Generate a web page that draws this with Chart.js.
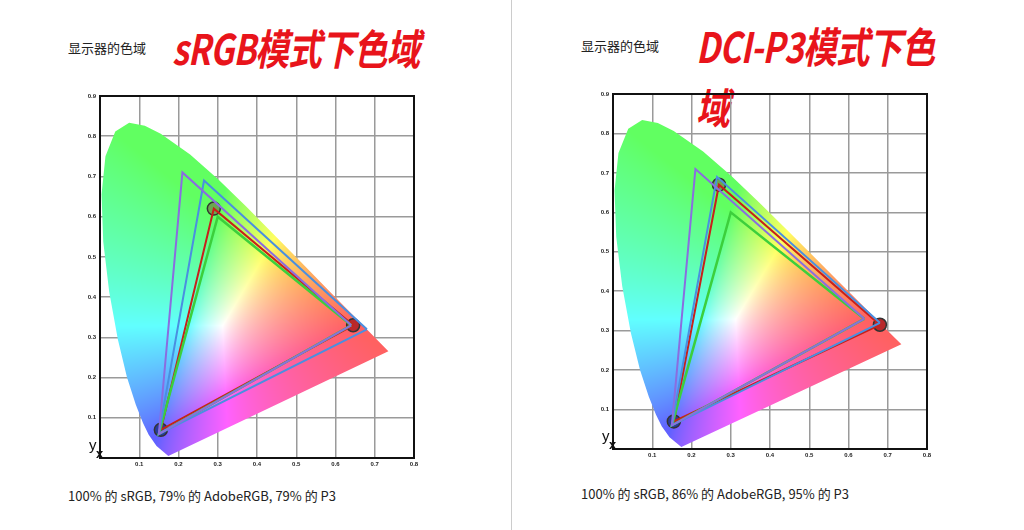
<!DOCTYPE html>
<html><head><meta charset="utf-8">
<script src="https://cdn.jsdelivr.net/npm/chart.js@4/dist/chart.umd.min.js"></script>
<style>
body{margin:0;background:#fff;width:1024px;height:530px;position:relative;overflow:hidden;font-family:"Noto Sans CJK SC","Noto Sans",sans-serif}
.t{position:absolute;font-size:13px;color:#222}
.big{position:absolute;color:#e8141b;font-weight:bold;font-style:italic;font-size:42px;letter-spacing:-1px;transform:scaleX(0.8);transform-origin:left}
.cv{position:absolute}
.xy{position:absolute;font-family:"Liberation Sans",sans-serif;color:#111}
</style></head><body>
<div style="position:absolute;left:511px;top:0;width:1px;height:530px;background:#ccc"></div>
<div class="t" style="left:68px;top:38px">显示器的色域</div>
<div class="big" style="left:172px;top:16px">sRGB模式下色域</div>
<div class="t" style="left:581px;top:36px">显示器的色域</div>
<div class="big" style="left:696px;top:14px">DCI-P3模式下色域</div>
<div class="t" style="left:68px;top:486px">100% 的 sRGB, 79% 的 AdobeRGB, 79% 的 P3</div>
<div class="t" style="left:581px;top:484px">100% 的 sRGB, 86% 的 AdobeRGB, 95% 的 P3</div>
<div class="cv" style="left:70px;top:88px;width:352px;height:384px"><canvas id="c1"></canvas></div>
<div class="cv" style="left:583px;top:86px;width:352px;height:377px"><canvas id="c2"></canvas></div>
<div class="xy" style="left:89px;top:436px;font-size:15px">y</div>
<div class="xy" style="left:96px;top:446px;font-size:13px;font-weight:bold">x</div>
<div class="xy" style="left:602px;top:427px;font-size:15px">y</div>
<div class="xy" style="left:609px;top:437px;font-size:13px;font-weight:bold">x</div>
<script>
const locusX=[0.1741,0.1440,0.1241,0.1096,0.0913,0.0687,0.0454,0.0235,0.0082,0.0039,0.0139,0.0389,0.0743,0.1142,0.1547,0.2296,0.3016,0.3731,0.4441,0.5125,0.5752,0.6270,0.6915,0.7190,0.7347];
const locusY=[0.0050,0.0297,0.0578,0.0868,0.1327,0.2007,0.2950,0.4127,0.5384,0.6548,0.7502,0.8120,0.8338,0.8262,0.8059,0.7543,0.6923,0.6245,0.5547,0.4866,0.4242,0.3725,0.3083,0.2809,0.2653];
const srgbX=[0.64,0.30,0.15], srgbY=[0.33,0.60,0.06];
const adobeX=[0.64,0.21,0.15], adobeY=[0.33,0.71,0.06];
const p3X=[0.68,0.265,0.15], p3Y=[0.32,0.69,0.06];
const meas1X=[0.645,0.29,0.155], meas1Y=[0.33,0.62,0.07];
const meas2X=[0.68,0.27,0.155], meas2Y=[0.315,0.67,0.07];
const xTicks=[0.1,0.2,0.3,0.4,0.5,0.6,0.7,0.8], yTicks=[0.1,0.2,0.3,0.4,0.5,0.6,0.7,0.8,0.9];

const pts=(xs,ys,close)=>{const a=xs.map((x,i)=>({x,y:ys[i]}));if(close)a.push(a[0]);return a;};

const locusPlugin={id:'locus',beforeDatasetsDraw(chart){
  const {ctx,scales:{x,y},chartArea:ca}=chart;
  const w=Math.round(ca.right-ca.left),h=Math.round(ca.bottom-ca.top);
  const off=document.createElement('canvas');off.width=w;off.height=h;
  const oc=off.getContext('2d');const img=oc.createImageData(w,h);
  const g=v=>v<=0.0031308?12.92*v:1.055*Math.pow(v,1/2.4)-0.055;
  for(let j=0;j<h;j++)for(let i=0;i<w;i++){
    const cx=x.getValueForPixel(ca.left+i+0.5),cy=y.getValueForPixel(ca.top+j+0.5);
    if(cy<=0.001)continue;
    const X=cx/cy,Y=1,Z=(1-cx-cy)/cy;
    let r=3.2406*X-1.5372*Y-0.4986*Z,gg=-0.9689*X+1.8758*Y+0.0415*Z,b=0.0557*X-0.2040*Y+1.0570*Z;
    r=Math.max(r,0);gg=Math.max(gg,0);b=Math.max(b,0);
    const m=Math.max(r,gg,b)||1;r=r/m*0.88+0.12;gg=gg/m*0.88+0.12;b=b/m*0.88+0.12;
    const k=(j*w+i)*4;img.data[k]=g(r)*255;img.data[k+1]=g(gg)*255;img.data[k+2]=g(b)*255;img.data[k+3]=255;
  }
  oc.putImageData(img,0,0);
  ctx.save();ctx.beginPath();
  locusX.forEach((lx,i)=>{const px=x.getPixelForValue(lx),py=y.getPixelForValue(locusY[i]);i?ctx.lineTo(px,py):ctx.moveTo(px,py);});
  ctx.closePath();ctx.clip();ctx.drawImage(off,ca.left,ca.top);ctx.restore();
}};
const borderPlugin={id:'bord',afterDraw(chart){const {ctx,chartArea:ca}=chart;ctx.save();ctx.strokeStyle='#111';ctx.lineWidth=2;ctx.strokeRect(ca.left,ca.top,ca.right-ca.left,ca.bottom-ca.top);ctx.restore();}};

function make(id,mx,my){
  const tri=(xs,ys,c,w)=>({type:'line',data:pts(xs,ys,true),borderColor:c,borderWidth:w,pointRadius:0,fill:false,tension:0});
  new Chart(document.getElementById(id),{type:'scatter',
    data:{datasets:[
      tri(adobeX,adobeY,'#8a6de0',2),
      tri(p3X,p3Y,'#4a8fe0',2),
      tri(srgbX,srgbY,'#3ccf3c',2.5),
      tri(mx,my,'#c8201a',2),
      {type:'scatter',data:pts(mx,my,false),pointRadius:6.5,pointBorderWidth:1.5,pointBorderColor:'#333',
       pointBackgroundColor:['#b8282a','#6aa84f','#2a3a9a']}
    ]},
    options:{responsive:true,maintainAspectRatio:false,animation:false,
      layout:{padding:{top:6,right:4,left:0,bottom:0}},
      plugins:{legend:{display:false},tooltip:{enabled:false}},
      scales:{
        x:{type:'linear',min:0,max:0.8,afterFit(s){s.height=14;},afterBuildTicks(s){s.ticks=xTicks.map(v=>({value:v}));},
          grid:{color:'#9a9a9a',lineWidth:1.5,drawTicks:false},border:{display:false},
          ticks:{color:'#222',font:{size:6,weight:'bold',family:'Liberation Sans'},padding:3,callback:v=>String(v)}},
        y:{type:'linear',min:0,max:0.9,afterFit(s){s.width=30;},afterBuildTicks(s){s.ticks=yTicks.map(v=>({value:v}));},
          grid:{color:'#9a9a9a',lineWidth:1.5,drawTicks:false},border:{display:false},
          ticks:{color:'#222',font:{size:6,weight:'bold',family:'Liberation Sans'},padding:4,callback:v=>String(v)}}
      }},
    plugins:[locusPlugin,borderPlugin]});
}
make('c1',meas1X,meas1Y);
make('c2',meas2X,meas2Y);
</script></body></html>
